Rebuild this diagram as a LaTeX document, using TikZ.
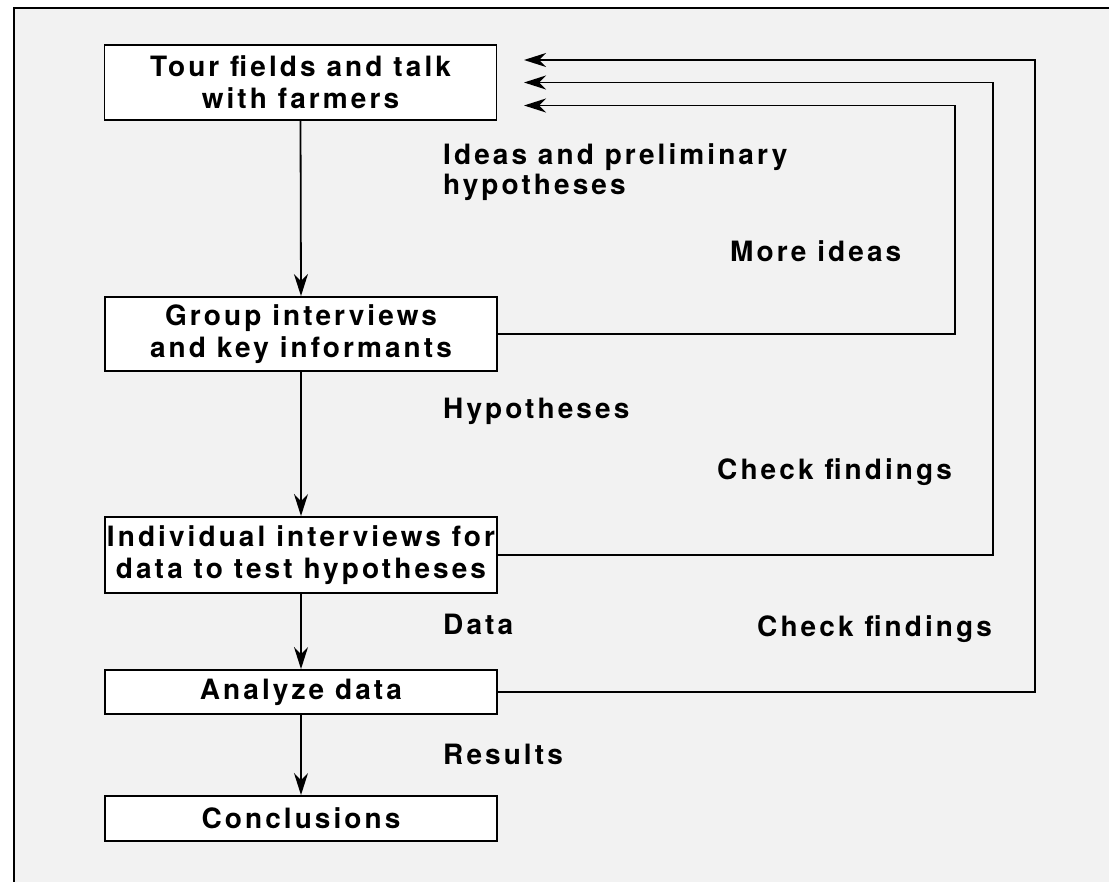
\documentclass[tikz,border=0pt]{standalone}
\usepackage{fontspec}
\setmainfont{TeX Gyre Heros}[LetterSpace=11]
\usetikzlibrary{arrows.meta}
\begin{document}
\begin{tikzpicture}[x=1pt,y=-1pt,
  every node/.style={font=\fontsize{28}{32}\selectfont\bfseries},
  stepbox/.style={draw=black,line width=1.9pt,fill=white,minimum width=392pt,inner sep=0pt,align=center},
  lab/.style={anchor=base west,inner sep=0pt,align=left},
  flow/.style={line width=1.8pt,-{Stealth[length=22pt,width=14pt,inset=7pt]}},
  fb/.style={line width=1.8pt,-{Stealth[length=22pt,width=14pt,inset=7pt]}}]
\useasboundingbox (0,0) rectangle (1109,882);
\fill[black!5] (14,8) rectangle (1109,882);
\draw[line width=2.6pt] (14,882) -- (14,8) -- (1109,8);
% boxes
\node[stepbox,minimum height=75pt] (b1) at (300.5,82.5) {Tour fields and talk\\with farmers};
\node[stepbox,minimum height=74pt] (b2) at (301,334) {Group interviews\\and key informants};
\node[stepbox,minimum height=76pt] (b3) at (301,555) {Individual interviews for\\data to test hypotheses};
\node[stepbox,minimum height=44pt] (b4) at (301,692) {Analyze data};
\node[stepbox,minimum height=45pt] (b5) at (301,818.5) {Conclusions};
% main flow
\draw[flow] (b1.south) -- (b2.north);
\draw[flow] (b2.south) -- (b3.north);
\draw[flow] (b3.south) -- (b4.north);
\draw[flow] (b4.south) -- (b5.north);
% feedback
\coordinate (t1) at (524,60);
\coordinate (r1) at (1035,60);
\coordinate (t2) at (524,82.5);
\coordinate (r2) at (993,82.5);
\coordinate (t3) at (524,105.5);
\coordinate (r3) at (955,105.5);
\draw[fb] (b2.east) -| (r3) -- (t3);
\draw[fb] (b3.east) -| (r2) -- (t2);
\draw[fb] (b4.east) -| (r1) -- (t1);
% labels
\node[lab] (l1) at (443,165) {Ideas and preliminary};
\node[lab] (l2) at (443,195) {hypotheses};
\node[lab] (l3) at (730,262) {More ideas};
\node[lab] (l4) at (443,419) {Hypotheses};
\node[lab] (l5) at (717,479) {Check findings};
\node[lab] (l6) at (443,634) {Data};
\node[lab] (l7) at (757,636) {Check findings};
\node[lab] (l8) at (443,764) {Results};
\end{tikzpicture}
\end{document}
